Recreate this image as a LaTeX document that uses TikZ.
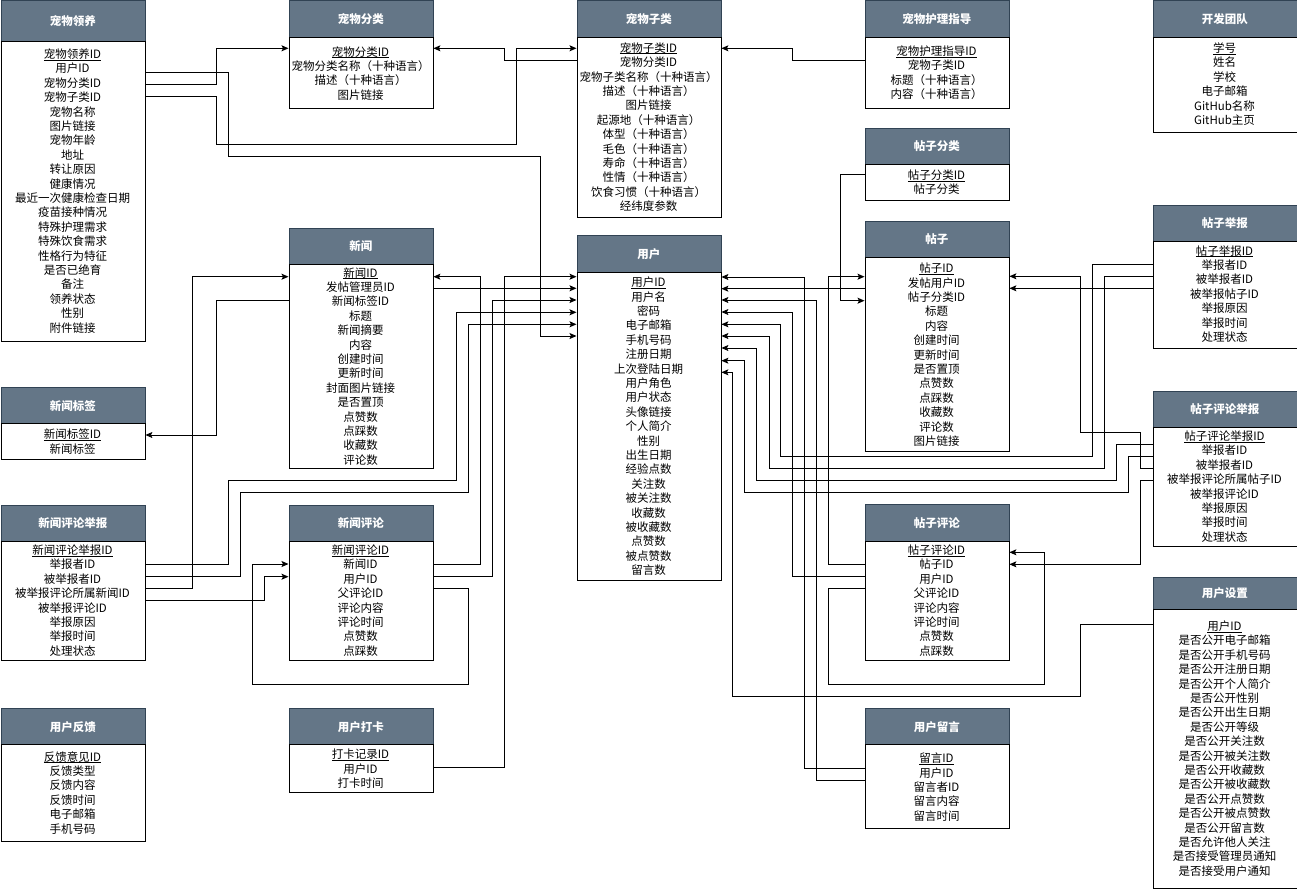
\documentclass[tikz,border=0pt]{standalone}
\usepackage{fontspec}
\setmainfont{Noto Sans CJK SC}
\usetikzlibrary{arrows.meta}
\definecolor{headfill}{HTML}{647687}
\definecolor{headline}{HTML}{314354}

% primary key: underlined close to the baseline
\newcommand{\pk}[1]{\underline{\smash{#1}}}
% #1 name, #2 left, #3 top, #4 header bottom, #5 bottom, #6 first row, #7 title, #8 rows
\newcommand{\ertable}[8]{%
  \node[headbox, minimum height={#4-#3}, anchor=north west] (#1-h) at (#2,#3) {#7};
  \node[bodybox, minimum height={#5-#4}, anchor=north west] (#1) at (#2,#4) {};
  \foreach \rowtxt [count=\ri from 0] in {#8}
    \node[rowtext] at ({#2+72},{#6+\ri*14.4}) {\rowtxt};
}

\begin{document}
\begin{tikzpicture}[x=1pt, y=-1pt, >={Stealth[length=7pt, width=6pt, inset=1.5pt]},
    headbox/.style={draw=headline, fill=headfill, text=white, line width=0.8pt,
      minimum width=144pt, inner sep=0pt, font=\bfseries\fontsize{11.5}{14}\selectfont},
    bodybox/.style={draw=black, fill=white, line width=0.9pt, minimum width=144pt, inner sep=0pt},
    rowtext/.style={inner sep=0pt, text height=10pt, text depth=1.2pt,
      font=\fontsize{11.5}{14}\selectfont},
    fk/.style={->, line width=0.9pt}]
  \useasboundingbox (0,0) rectangle (1297,889);

  % --- pets ---
  \ertable{adopt}{0.5}{0}{41}{341}{54}{宠物领养}{\pk{宠物领养ID},用户ID,宠物分类ID,宠物子类ID,宠物名称,图片链接,宠物年龄,地址,转让原因,健康情况,最近一次健康检查日期,疫苗接种情况,特殊护理需求,特殊饮食需求,性格行为特征,是否已绝育,备注,领养状态,性别,附件链接}
  \ertable{petcat}{288.5}{0}{37}{108}{51.7}{宠物分类}{\pk{宠物分类ID},宠物分类名称（十种语言）,描述（十种语言）,图片链接}
  \ertable{petsub}{576.5}{0}{37}{217}{47.8}{宠物子类}{\pk{宠物子类ID},宠物分类ID,宠物子类名称（十种语言）,描述（十种语言）,图片链接,起源地（十种语言）,体型（十种语言）,毛色（十种语言）,寿命（十种语言）,性情（十种语言）,饮食习惯（十种语言）,经纬度参数}
  \ertable{care}{864.5}{0}{37}{108}{51}{宠物护理指导}{\pk{宠物护理指导ID},宠物子类ID,标题（十种语言）,内容（十种语言）}
  \ertable{team}{1152.5}{0}{37}{132}{48}{开发团队}{\pk{学号},姓名,学校,电子邮箱,GitHub名称,GitHub主页}

  % --- posts ---
  \ertable{postcat}{864.5}{128}{164}{200}{175}{帖子分类}{\pk{帖子分类ID},帖子分类}
  \ertable{post}{864.5}{220.7}{256.7}{451}{268.3}{帖子}{\pk{帖子ID},发帖用户ID,帖子分类ID,标题,内容,创建时间,更新时间,是否置顶,点赞数,点踩数,收藏数,评论数,图片链接}
  \ertable{postrep}{1152.5}{204.7}{240.7}{348}{250.7}{帖子举报}{\pk{帖子举报ID},举报者ID,被举报者ID,被举报帖子ID,举报原因,举报时间,处理状态}
  \ertable{pcrep}{1152.5}{390.7}{426.7}{546}{436}{帖子评论举报}{\pk{帖子评论举报ID},举报者ID,被举报者ID,被举报评论所属帖子ID,被举报评论ID,举报原因,举报时间,处理状态}
  \ertable{pcom}{864.5}{504.3}{540.7}{660}{550}{帖子评论}{\pk{帖子评论ID},帖子ID,用户ID,父评论ID,评论内容,评论时间,点赞数,点踩数}

  % --- users ---
  \ertable{user}{576.5}{235}{272}{580}{282.3}{用户}{\pk{用户ID},用户名,密码,电子邮箱,手机号码,注册日期,上次登陆日期,用户角色,用户状态,头像链接,个人简介,性别,出生日期,经验点数,关注数,被关注数,收藏数,被收藏数,点赞数,被点赞数,留言数}
  \ertable{uset}{1152.5}{577}{609}{887.5}{626}{用户设置}{\pk{用户ID},是否公开电子邮箱,是否公开手机号码,是否公开注册日期,是否公开个人简介,是否公开性别,是否公开出生日期,是否公开等级,是否公开关注数,是否公开被关注数,是否公开收藏数,是否公开被收藏数,是否公开点赞数,是否公开被点赞数,是否公开留言数,是否允许他人关注,是否接受管理员通知,是否接受用户通知}
  \ertable{msg}{864.5}{708.3}{744.3}{828.3}{758.3}{用户留言}{\pk{留言ID},用户ID,留言者ID,留言内容,留言时间}
  \ertable{fb}{0.5}{708.3}{744.3}{840.7}{756.7}{用户反馈}{\pk{反馈意见ID},反馈类型,反馈内容,反馈时间,电子邮箱,手机号码}
  \ertable{checkin}{288.5}{708.3}{744.3}{791.7}{754.3}{用户打卡}{\pk{打卡记录ID},用户ID,打卡时间}

  % --- news ---
  \ertable{news}{288.5}{228}{264}{468}{272.7}{新闻}{\pk{新闻ID},发帖管理员ID,新闻标签ID,标题,新闻摘要,内容,创建时间,更新时间,封面图片链接,是否置顶,点赞数,点踩数,收藏数,评论数}
  \ertable{ntag}{0.5}{387.3}{423.3}{459.3}{434.3}{新闻标签}{\pk{新闻标签ID},新闻标签}
  \ertable{ncrep}{0.5}{504.7}{540.7}{660}{550}{新闻评论举报}{\pk{新闻评论举报ID},举报者ID,被举报者ID,被举报评论所属新闻ID,被举报评论ID,举报原因,举报时间,处理状态}
  \ertable{ncom}{288.5}{504.7}{540.7}{660}{550}{新闻评论}{\pk{新闻评论ID},新闻ID,用户ID,父评论ID,评论内容,评论时间,点赞数,点踩数}

  % --- pet links ---
  \draw[fk] (adopt.east |- 0,72.3) -| (228.3,156) -| (540,336) -- (user.west |- 0,336);
  \draw[fk] (adopt.east |- 0,84.3) -| (216.7,48.3) -- (petcat.west |- 0,48.3);
  \draw[fk] (adopt.east |- 0,96.7) -| (216.7,144.3) -| (516.7,48.3) -- (petsub.west |- 0,48.3);
  \draw[fk] (petsub.west |- 0,60.3) -| (504.3,48.3) -- (petcat.east |- 0,48.3);
  \draw[fk] (care.west |- 0,60.3) -| (792.3,48.3) -- (petsub.east |- 0,48.3);

  % --- post links ---
  \draw[fk] (postcat.west |- 0,174.3) -| (840,300.7) -- (post.west |- 0,300.7);
  \draw[fk] (post.west |- 0,288.7) -- (user.east |- 0,288.7);
  \draw[fk] (pcom.west |- 0,564.3) -| (828.3,276.7) -- (post.west |- 0,276.7);
  \draw[fk] (pcom.west |- 0,576) -| (792.3,312) -- (user.east |- 0,312);
  \draw[fk] (pcom.west |- 0,588.3) -| (828.3,684.3) -| (1044.3,552.3) -- (pcom.east |- 0,552.3);
  \draw[fk] (postrep.west |- 0,264.3) -| (1092.3,456) -| (780.7,324.3) -- (user.east |- 0,324.3);
  \draw[fk] (postrep.west |- 0,276.3) -| (1104.3,468.3) -| (769,336) -- (user.east |- 0,336);
  \draw[fk] (postrep.west |- 0,288.3) -- (post.east |- 0,288.3);
  \draw[fk] (pcrep.west |- 0,444.3) -| (1116.7,480) -| (756.7,348) -- (user.east |- 0,348);
  \draw[fk] (pcrep.west |- 0,456.7) -| (1128.3,492) -| (744.3,360.7) -- (user.east |- 0,360.7);
  \draw[fk] (pcrep.west |- 0,468.3) -| (1140.7,432.5) -| (1080,276.3) -- (post.east |- 0,276.3);
  \draw[fk] (pcrep.west |- 0,480) -| (1140.7,564.3) -- (pcom.east |- 0,564.3);

  % --- user links ---
  \draw[fk] (msg.west |- 0,768.3) -| (804.3,277) -- (user.east |- 0,277);
  \draw[fk] (msg.west |- 0,780) -| (816.3,300) -- (user.east |- 0,300);
  \draw[fk] (uset.west |- 0,624) -| (1080.3,696) -| (732.3,372.3) -- (user.east |- 0,372.3);
  \draw[fk] (checkin.east |- 0,767.7) -| (504.3,276.7) -- (user.west |- 0,276.7);

  % --- news links ---
  \draw[fk] (news.east |- 0,288.3) -- (user.west |- 0,288.3);
  \draw[fk] (news.west |- 0,300) -| (216.7,435) -- (ntag.east |- 0,435);
  \draw[fk] (ncrep.east |- 0,588.3) -| (192.3,276.7) -- (news.west |- 0,276.7);
  \draw[fk] (ncrep.east |- 0,564) -| (228.3,480) -| (456.7,312.3) -- (user.west |- 0,312.3);
  \draw[fk] (ncrep.east |- 0,576.7) -| (240.3,492.3) -| (468.3,324.3) -- (user.west |- 0,324.3);
  \draw[fk] (ncrep.east |- 0,600) -| (264.3,576.7) -- (ncom.west |- 0,576.7);
  \draw[fk] (ncom.east |- 0,588.3) -| (468.3,684) -| (252.3,564) -- (ncom.west |- 0,564);
  \draw[fk] (ncom.east |- 0,564) -| (480,276.7) -- (news.east |- 0,276.7);
  \draw[fk] (ncom.east |- 0,576.7) -| (492.3,300) -- (user.west |- 0,300);
\end{tikzpicture}
\end{document}
